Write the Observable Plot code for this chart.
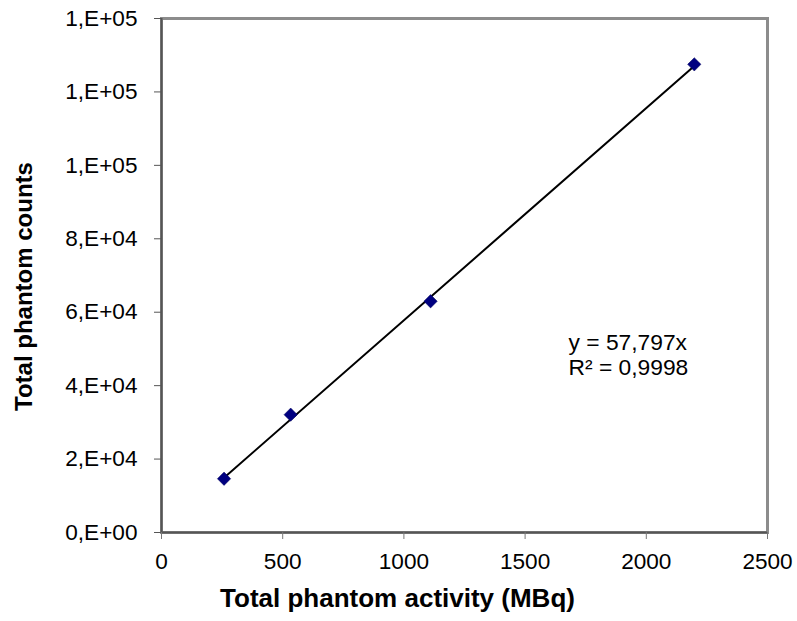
<!DOCTYPE html>
<html><head><meta charset="utf-8">
<script src="https://cdn.jsdelivr.net/npm/d3@7"></script>
<script src="https://cdn.jsdelivr.net/npm/@observablehq/plot@0.6"></script>
<style>body{margin:0;background:#fff}</style>
</head><body><div id="chart"></div>
<script>
const activity = [258, 533, 1110, 2198];
const counts = [14640, 32090, 62980, 127510];
const slope = 57.797;
const xTicks = [0, 500, 1000, 1500, 2000, 2500];
const yTicks = [0, 20000, 40000, 60000, 80000, 100000, 120000, 140000];
const yTickLabels = ["0,E+00", "2,E+04", "4,E+04", "6,E+04", "8,E+04", "1,E+05", "1,E+05", "1,E+05"];
const xTitle = "Total phantom activity (MBq)";
const yTitle = "Total phantom counts";
const equationLines = ["y = 57,797x", "R² = 0,9998"];

const points = activity.map((x, i) => ({x, y: counts[i]}));
const xMin = d3.min(activity), xMax = d3.max(activity);
const trend = [{x: xMin, y: slope * xMin}, {x: xMax, y: slope * xMax}];

const font = "'Liberation Sans', Arial, sans-serif";
const chart = Plot.plot({
  width: 797, height: 621,
  marginLeft: 161, marginRight: 30, marginTop: 18, marginBottom: 89,
  style: {fontFamily: font, background: "#fff", overflow: "visible"},
  x: {domain: [0, 2500]},
  y: {domain: [0, 140000]},
  marks: [
    Plot.frame({stroke: "#8c8c8c", strokeWidth: 3}),
    Plot.ruleX([0], {stroke: "#555", strokeWidth: 2}),
    Plot.ruleY([0], {stroke: "#555", strokeWidth: 2}),
    Plot.axisY({ticks: yTicks, tickFormat: d => yTickLabels[yTicks.indexOf(d)], tickSize: 7, tickPadding: 17,
      fontSize: 22.6, label: null, stroke: "#555", fill: "#000"}),
    Plot.axisX({ticks: xTicks, tickFormat: d => String(d), tickSize: 7, tickPadding: 13,
      fontSize: 22.6, label: null, stroke: "#777", fill: "#000"}),
    Plot.text([yTitle], {text: d => d, frameAnchor: "left", textAnchor: "middle", rotate: -90, dx: -137, dy: 11,
      fontSize: 24, fontWeight: "bold", fill: "#000"}),
    Plot.text([xTitle], {text: d => d, frameAnchor: "bottom", textAnchor: "middle", dx: -67, dy: 74,
      fontSize: 26, fontWeight: "bold", fill: "#000"}),
    Plot.text([equationLines.join("\n")], {text: d => d, frameAnchor: "top-left", textAnchor: "start",
      lineAnchor: "top", dx: 407, dy: 314, fontSize: 22.8, lineHeight: 25 / 22.8, fill: "#000"}),
    Plot.line(trend, {x: "x", y: "y", stroke: "#000", strokeWidth: 2}),
    Plot.dot(points, {x: "x", y: "y", symbol: "diamond2", r: 6, fill: "#000080", stroke: "#00005a", strokeWidth: 0.5})
  ]
});
document.getElementById("chart").appendChild(chart);
</script>
</body></html>
